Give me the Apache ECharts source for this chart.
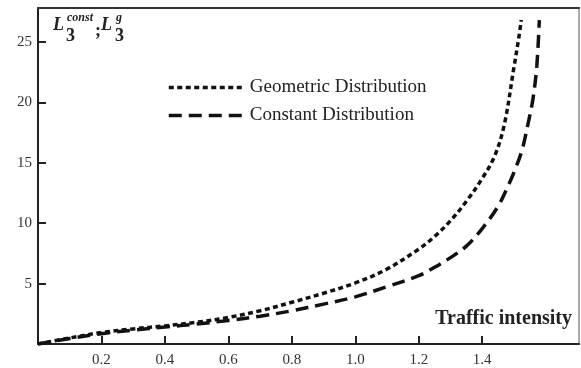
<!DOCTYPE html>
<html>
<head>
<meta charset="utf-8">
<script src="https://cdn.jsdelivr.net/npm/echarts@6/dist/echarts.min.js"></script>
<style>
  html, body { margin: 0; padding: 0; background: #fff; }
  #chart { width: 581px; height: 368px; }
</style>
</head>
<body>
<div id="chart"></div>
<script>
// traffic intensity (rho) and queue length
var geoRho = [0, 0.1, 0.2, 0.3, 0.4, 0.5, 0.6, 0.7, 0.8, 0.9, 1.0, 1.1, 1.2, 1.25, 1.3, 1.35, 1.4, 1.44, 1.47, 1.5, 1.515, 1.523];
var geoL = [0, 0.5, 0.95, 1.25, 1.5, 1.8, 2.2, 2.75, 3.45, 4.2, 5.05, 6.2, 7.85, 8.9, 10.2, 11.8, 13.7, 15.6, 18.2, 22.9, 25.3, 26.8];

var constRho = [0, 0.1, 0.2, 0.3, 0.4, 0.5, 0.6, 0.7, 0.8, 0.9, 1.0, 1.1, 1.2, 1.25, 1.3, 1.35, 1.4, 1.45, 1.48, 1.5, 1.525, 1.545, 1.56, 1.572, 1.58];
var constL = [0, 0.45, 0.85, 1.15, 1.4, 1.65, 1.95, 2.3, 2.75, 3.3, 3.9, 4.75, 5.65, 6.35, 7.15, 8.1, 9.55, 11.4, 13.0, 14.2, 16.0, 18.3, 20.3, 23, 26.8];

var xTicks = [0.2, 0.4, 0.6, 0.8, 1.0, 1.2, 1.4];
var yTicks = [5, 10, 15, 20, 25];

function zip(a, b) {
    var out = [];
    for (var i = 0; i < a.length; i++) {
        out.push([a[i], b[i]]);
    }
    return out;
}

var serif = '"Liberation Serif", "DejaVu Serif", serif';

var chart = echarts.init(document.getElementById('chart'));
var option = {
    animation: false,
    backgroundColor: '#fff',
    grid: {
        left: 38,
        right: 2,
        top: 8,
        bottom: 24,
        show: true,
        borderColor: '#555',
        borderWidth: 1
    },
    legend: {
        orient: 'vertical',
        left: 162,
        top: 73,
        itemWidth: 76,
        itemHeight: 14,
        itemGap: 9,
        itemStyle: { opacity: 0 },
        lineStyle: { width: 3.5 },
        textStyle: { fontFamily: serif, fontSize: 19, color: '#222' },
        data: ['Geometric Distribution', 'Constant Distribution']
    },
    xAxis: [{
        type: 'value',
        min: 0,
        max: 1.705,
        splitLine: { show: false },
        axisLine: { lineStyle: { color: '#222', width: 2 } },
        axisTick: { inside: true, length: 8, customValues: xTicks, lineStyle: { color: '#222', width: 2 } },
        axisLabel: {
            customValues: xTicks,
            formatter: function (v) { return v.toFixed(1); },
            fontFamily: serif,
            fontSize: 15,
            color: '#333',
            margin: 9
        }
    }, {
        type: 'value',
        position: 'top',
        min: 0,
        max: 1.705,
        splitLine: { show: false },
        axisLine: { show: true, lineStyle: { color: '#333', width: 2 } },
        axisTick: { show: false },
        axisLabel: { show: false }
    }],
    yAxis: {
        type: 'value',
        min: 0,
        max: 27.8,
        splitLine: { show: false },
        axisLine: { lineStyle: { color: '#222', width: 2 } },
        axisTick: { inside: true, length: 8, customValues: yTicks, lineStyle: { color: '#222', width: 2 } },
        axisLabel: {
            customValues: yTicks,
            fontFamily: serif,
            fontSize: 15,
            color: '#333',
            margin: 6
        }
    },
    graphic: [
        { type: 'text', left: 53, top: 16, style: { text: 'L', font: 'italic bold 18px ' + serif, fill: '#222' } },
        { type: 'text', left: 67, top: 12, style: { text: 'const', font: 'italic bold 12px ' + serif, fill: '#222' } },
        { type: 'text', left: 66, top: 27, style: { text: '3', font: 'bold 18px ' + serif, fill: '#222' } },
        { type: 'text', left: 95, top: 22, style: { text: ';', font: 'bold 18px ' + serif, fill: '#222' } },
        { type: 'text', left: 101, top: 16, style: { text: 'L', font: 'italic bold 18px ' + serif, fill: '#222' } },
        { type: 'text', left: 116, top: 12, style: { text: 'g', font: 'italic bold 12px ' + serif, fill: '#222' } },
        { type: 'text', left: 115, top: 27, style: { text: '3', font: 'bold 18px ' + serif, fill: '#222' } },
        { type: 'text', right: 9, top: 309, style: { text: 'Traffic intensity', font: 'bold 20px ' + serif, fill: '#222' } }
    ],
    series: [{
        name: 'Geometric Distribution',
        type: 'line',
        symbol: 'none',
        smooth: 0.35,
        lineStyle: { color: '#111', width: 3.5, type: [5, 3.5] },
        itemStyle: { color: '#111' },
        data: zip(geoRho, geoL)
    }, {
        name: 'Constant Distribution',
        type: 'line',
        symbol: 'none',
        smooth: 0.35,
        lineStyle: { color: '#111', width: 3.5, type: [13, 7] },
        itemStyle: { color: '#111' },
        data: zip(constRho, constL)
    }]
};
chart.setOption(option);
</script>
</body>
</html>
